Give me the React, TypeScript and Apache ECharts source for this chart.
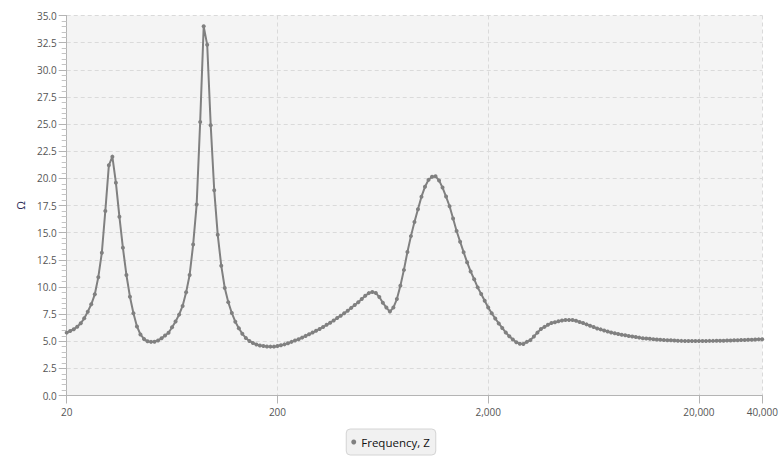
import React, { useEffect, useRef } from "react";
import * as echarts from "echarts";

// Frequency (Hz) of every measured point, log spaced
const FREQ_HZ = [
  20, 20.78, 21.6, 22.44, 23.32, 24.23, 25.18, 26.16, 27.19, 28.25,
  29.36, 30.5, 31.7, 32.94, 34.23, 35.57, 36.96, 38.4, 39.91, 41.47,
  43.09, 44.77, 46.53, 48.35, 50.24, 52.2, 54.25, 56.37, 58.57, 60.86,
  63.25, 65.72, 68.29, 70.96, 73.74, 76.62, 79.62, 82.74, 85.97, 89.34,
  92.83, 96.46, 100.24, 104.16, 108.23, 112.47, 116.87, 121.44, 126.19, 131.13,
  136.26, 141.59, 147.13, 152.88, 158.87, 165.08, 171.54, 178.25, 185.22, 192.47,
  200, 207.8, 216, 224.4, 233.2, 242.3, 251.8, 261.6, 271.9, 282.5,
  293.6, 305, 317, 329.4, 342.3, 355.7, 369.6, 384, 399.1, 414.7,
  430.9, 447.7, 465.3, 483.5, 502.4, 522, 542.5, 563.7, 585.7, 608.6,
  632.5, 657.2, 682.9, 709.6, 737.4, 766.2, 796.2, 827.4, 859.7, 893.4,
  928.3, 964.6, 1002.4, 1041.6, 1082.3, 1124.7, 1168.7, 1214.4, 1261.9, 1311.3,
  1362.6, 1415.9, 1471.3, 1528.8, 1588.7, 1650.8, 1715.4, 1782.5, 1852.2, 1924.7,
  2000, 2078, 2160, 2244, 2332, 2423, 2518, 2616, 2719, 2825,
  2936, 3050, 3170, 3294, 3423, 3557, 3696, 3840, 3991, 4147,
  4309, 4477, 4653, 4835, 5024, 5220, 5425, 5637, 5857, 6086,
  6325, 6572, 6829, 7096, 7374, 7662, 7962, 8274, 8597, 8934,
  9283, 9646, 10024, 10416, 10823, 11247, 11687, 12144, 12619, 13113,
  13626, 14159, 14713, 15288, 15887, 16508, 17154, 17825, 18522, 19247,
  20000, 20782, 21596, 22440, 23318, 24231, 25179, 26163, 27188, 28251,
  29356, 30504, 31698, 32938, 34227, 35566, 36957, 38402, 39905,
];

// Impedance magnitude (Ω)
const IMPEDANCE_OHM = [
  5.79, 5.94, 6.1, 6.34, 6.65, 7.11, 7.72, 8.4, 9.32, 10.9,
  13.15, 17.0, 21.2, 22.0, 19.6, 16.47, 13.6, 11.1, 9.1, 7.57,
  6.36, 5.62, 5.21, 5.0, 4.94, 4.96, 5.07, 5.27, 5.53, 5.78,
  6.28, 6.82, 7.45, 8.25, 9.5, 11.1, 13.9, 17.6, 25.2, 34.0,
  32.3, 24.9, 18.9, 14.8, 11.96, 9.9, 8.6, 7.6, 6.8, 6.2,
  5.68, 5.3, 5.02, 4.84, 4.7, 4.61, 4.55, 4.51, 4.5, 4.5,
  4.55, 4.62, 4.71, 4.81, 4.94, 5.07, 5.19, 5.33, 5.49, 5.64,
  5.8, 5.96, 6.13, 6.31, 6.51, 6.71, 6.91, 7.13, 7.35, 7.58,
  7.81, 8.07, 8.33, 8.59, 8.89, 9.19, 9.43, 9.54, 9.45, 9.07,
  8.55, 8.1, 7.73, 8.1, 8.88, 10.11, 11.57, 13.22, 14.68, 15.98,
  17.15, 18.31, 19.22, 19.86, 20.15, 20.19, 19.81, 19.15, 18.32, 17.43,
  16.3, 15.15, 14.17, 13.2, 12.26, 11.43, 10.71, 9.96, 9.35, 8.72,
  8.1, 7.57, 7.09, 6.64, 6.22, 5.8, 5.45, 5.16, 4.91, 4.76,
  4.75, 4.94, 5.1, 5.44, 5.79, 6.12, 6.32, 6.51, 6.67, 6.75,
  6.83, 6.91, 6.95, 6.96, 6.95, 6.88, 6.77, 6.67, 6.55, 6.43,
  6.3, 6.18, 6.09, 5.99, 5.89, 5.8, 5.73, 5.67, 5.6, 5.54,
  5.48, 5.43, 5.38, 5.33, 5.28, 5.25, 5.22, 5.19, 5.16, 5.13,
  5.11, 5.09, 5.08, 5.06, 5.04, 5.03, 5.02, 5.02, 5.02, 5.02,
  5.02, 5.02, 5.02, 5.03, 5.03, 5.04, 5.05, 5.05, 5.06, 5.07,
  5.08, 5.09, 5.11, 5.12, 5.13, 5.14, 5.15, 5.17, 5.18,
];

const X_TICKS = [20, 200, 2000, 20000, 40000];
const Y_MIN = 0;
const Y_MAX = 35;
const Y_STEP = 2.5;
const Y_NAME = "Ω";
const SERIES_NAME = "Frequency, Z";

const FONT = '"Segoe UI", "Open Sans", "Noto Sans", sans-serif';
const LINE_GRAY = "#808080";
const AXIS_GRAY = "#b4b4b4";
const GRID_GRAY = "#dadada";

export default function App() {
  const ref = useRef<HTMLDivElement>(null);

  useEffect(() => {
    if (!ref.current) return;
    const chart = echarts.init(ref.current, undefined, { renderer: "svg" });
    const data = FREQ_HZ.map((f, i) => [f, IMPEDANCE_OHM[i]]);

    chart.setOption({
      animation: false,
      textStyle: { fontFamily: FONT },
      grid: {
        left: 66.7,
        right: 14.3,
        top: 15.5,
        bottom: 67.5,
        show: true,
        backgroundColor: "#f4f4f4",
        borderWidth: 0,
      },
      xAxis: {
        type: "log",
        logBase: 10,
        min: 20,
        max: 40000,
        axisLine: { show: true, onZero: false, lineStyle: { color: AXIS_GRAY, width: 1 } },
        axisTick: {
          show: true,
          length: 8,
          customValues: X_TICKS,
          lineStyle: { color: AXIS_GRAY },
        },
        axisLabel: {
          customValues: X_TICKS,
          formatter: (v: number) => Math.round(v).toLocaleString("en-US"),
          color: "#555",
          fontSize: 10,
          margin: 11,
          showMinLabel: true,
          showMaxLabel: true,
          fontFamily: FONT,
        },
        splitLine: { show: true, lineStyle: { color: GRID_GRAY, type: [4, 3], width: 1 } },
        minorTick: { show: false },
        minorSplitLine: { show: false },
      },
      yAxis: {
        type: "value",
        min: Y_MIN,
        max: Y_MAX,
        interval: Y_STEP,
        name: Y_NAME,
        nameLocation: "middle",
        nameRotate: 90,
        nameGap: 41,
        nameTextStyle: { color: "#2b2b55", fontSize: 11, fontFamily: FONT },
        axisLine: { show: true, onZero: false, lineStyle: { color: AXIS_GRAY, width: 1 } },
        axisTick: { show: true, length: 8, lineStyle: { color: AXIS_GRAY } },
        minorTick: { show: true, splitNumber: 5, length: 5, lineStyle: { color: "#c4c4c4" } },
        axisLabel: {
          formatter: (v: number) => v.toFixed(1),
          color: "#555",
          fontSize: 10,
          margin: 10,
          fontFamily: FONT,
        },
        splitLine: { show: true, lineStyle: { color: GRID_GRAY, type: [4, 3], width: 1 } },
      },
      legend: {
        top: 429,
        left: "center",
        icon: "circle",
        itemWidth: 5,
        itemHeight: 5,
        padding: [7, 6, 7, 5],
        backgroundColor: "#f1f1f1",
        borderColor: "#d4d4d4",
        borderWidth: 1,
        borderRadius: 4,
        textStyle: { color: "#111", fontSize: 11.5, fontFamily: FONT },
        data: [{ name: SERIES_NAME, itemStyle: { color: LINE_GRAY } }],
      },
      series: [
        {
          type: "line",
          name: SERIES_NAME,
          data,
          symbol: "circle",
          symbolSize: 4,
          showSymbol: true,
          showAllSymbol: true,
          lineStyle: { color: LINE_GRAY, width: 2 },
          itemStyle: { color: LINE_GRAY },
          emphasis: { disabled: true },
        },
      ],
    });

    return () => chart.dispose();
  }, []);

  return (
    <div
      ref={ref}
      style={{ position: "fixed", left: 0, top: 0, width: 781, height: 463, background: "#fff" }}
    />
  );
}
